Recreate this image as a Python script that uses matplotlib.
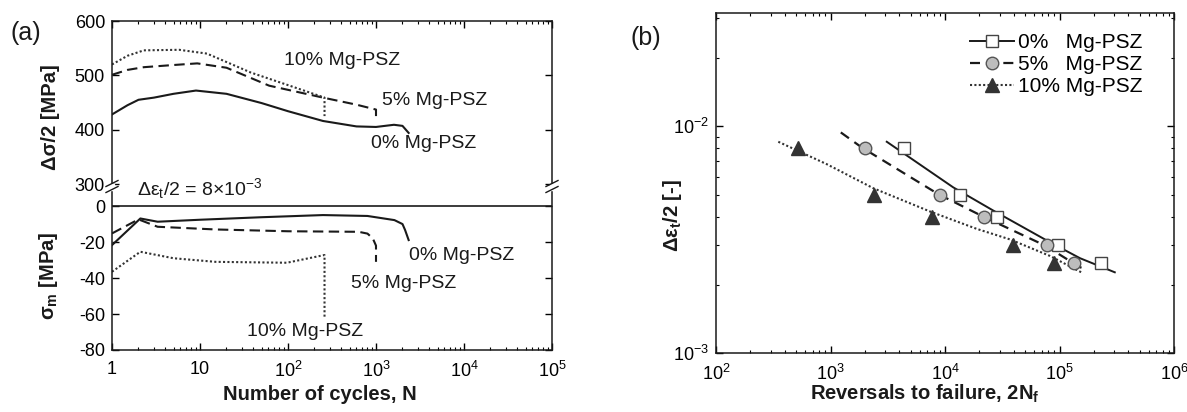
import matplotlib
matplotlib.use("Agg")
import matplotlib.pyplot as plt
from matplotlib.lines import Line2D
from matplotlib.patches import Rectangle
from matplotlib.ticker import FixedLocator, FixedFormatter, LogLocator, NullFormatter

plt.rcParams['font.family'] = ['Liberation Sans', 'DejaVu Sans']
plt.rcParams['mathtext.fontset'] = 'custom'
plt.rcParams['mathtext.rm'] = 'Liberation Sans'
plt.rcParams['mathtext.it'] = 'Liberation Sans:italic'
plt.rcParams['mathtext.bf'] = 'Liberation Sans:bold'
plt.rcParams['axes.unicode_minus'] = False

# ---------------- data: panel (a) stress amplitude ----------------
N_amp_0 = [1, 1.5, 2, 3, 5, 9, 20, 50, 100, 250, 600, 1000, 1600, 2000, 2350]
amp_0 = [428, 445, 455, 459, 466, 472, 466, 449, 434, 416, 406, 405, 409, 407, 394]
N_amp_5 = [1, 1.5, 2.3, 5, 9.3, 20, 61, 250, 600, 1000, 1000]
amp_5 = [501, 510, 515, 519, 522, 514, 481, 459, 446, 437, 425]
N_amp_10 = [1, 1.5, 2.3, 5.8, 12, 38, 100, 260, 260]
amp_10 = [520, 536, 546, 547, 540, 505, 482, 459, 425]

# ---------------- data: panel (a) mean stress ----------------
N_m_0 = [1, 2.1, 3.3, 10, 50, 250, 800, 1620, 2000, 2140, 2350]
m_0 = [-21.7, -6.9, -8.7, -7.6, -6.2, -5.0, -5.5, -7.8, -10.0, -13.3, -18.9]
N_m_5 = [1, 2.0, 3.3, 15, 100, 635, 800, 920, 1000, 1000]
m_5 = [-15.2, -7.4, -11.5, -13.0, -14.0, -14.3, -15.3, -18.0, -22.0, -31.0]
N_m_10 = [1, 2.1, 5, 15, 97, 260, 260]
m_10 = [-36.5, -25.4, -29.0, -31.0, -31.5, -27.2, -61.5]

# ---------------- data: panel (b) strain-life ----------------
rev_0 = [4400, 13600, 28400, 96900, 230000]
eps_0 = [0.008, 0.005, 0.004, 0.003, 0.0025]
rev_5 = [1990, 9040, 22100, 78500, 133000]
eps_5 = [0.008, 0.005, 0.004, 0.003, 0.0025]
rev_10 = [516, 2400, 7770, 39300, 89000]
eps_10 = [0.008, 0.005, 0.004, 0.003, 0.0025]

fit0_x = [3100, 11800, 26400, 82600, 151000, 304000]
fit0_y = [0.00855, 0.00538, 0.00425, 0.00308, 0.00262, 0.00227]
fit5_x = [1230, 1875, 8750, 21300, 74700, 151000, 172000]
fit5_y = [0.0094, 0.00807, 0.00502, 0.00401, 0.00298, 0.00239, 0.00234]
fit10_x = [350, 927, 2370, 7400, 18900, 37000, 82600, 155000]
fit10_y = [0.00855, 0.00681, 0.00533, 0.00421, 0.00353, 0.00317, 0.00268, 0.00227]

legend_labels = ['0%   Mg-PSZ', '5%   Mg-PSZ', '10% Mg-PSZ']
a_xtick_vals = [1, 10, 100, 1000, 10000, 100000]
a_xtick_labels = ['1', '10', r'$\mathdefault{10^{2}}$', r'$\mathdefault{10^{3}}$',
                  r'$\mathdefault{10^{4}}$', r'$\mathdefault{10^{5}}$']

W, H = 1187, 412
fig = plt.figure(figsize=(W / 100, H / 100), dpi=100)

def fbox(x0, y0, x1, y1):
    return [x0 / W, 1 - y1 / H, (x1 - x0) / W, (y1 - y0) / H]

brk = 187
axT = fig.add_axes(fbox(112, 21, 552, brk))
axB = fig.add_axes(fbox(112, brk, 552, 350))
axR = fig.add_axes(fbox(716, 13, 1174, 353))

TICK_FS = 13
ANN_FS = 14
LAB_FS = 14.5
K = '#1a1a1a'

for ax in (axT, axB):
    ax.set_xscale('log')
    ax.set_xlim(1, 1e5)
    ax.xaxis.set_major_locator(FixedLocator(a_xtick_vals))
    ax.xaxis.set_minor_locator(LogLocator(base=10, subs=range(2, 10), numticks=20))
    ax.xaxis.set_minor_formatter(NullFormatter())
    ax.tick_params(which='both', direction='in', labelsize=TICK_FS, right=True)
    ax.tick_params(which='major', length=5, width=1)
    ax.tick_params(which='minor', length=2.5, width=0.8)
    for s in ax.spines.values():
        s.set_linewidth(1.1)
        s.set_color(K)

axT.set_ylim(294.5, 600)
axT.set_yticks([300, 400, 500, 600])
axT.spines['bottom'].set_visible(False)
axT.tick_params(which='both', bottom=False, top=True, labelbottom=False)
axT.tick_params(axis='y', pad=5)

axB.set_ylim(-80, 10.6)
axB.set_yticks([0, -20, -40, -60, -80])
axB.spines['top'].set_visible(False)
axB.tick_params(which='both', top=False, bottom=True)
axB.xaxis.set_major_formatter(FixedFormatter(a_xtick_labels))
axB.tick_params(axis='x', pad=8)
axB.tick_params(axis='y', pad=5)
axB.axhline(0, color=K, lw=1.2)

lw_a = 1.5
axT.plot(N_amp_0, amp_0, color=K, lw=lw_a, ls='-')
axT.plot(N_amp_5, amp_5, color=K, lw=lw_a, ls=(0, (5, 2.6)))
axT.plot(N_amp_10, amp_10, color='#333333', lw=lw_a, ls=(0, (1, 1.1)))
axB.plot(N_m_0, m_0, color=K, lw=lw_a, ls='-')
axB.plot(N_m_5, m_5, color=K, lw=lw_a, ls=(0, (5, 2.6)))
axB.plot(N_m_10, m_10, color='#333333', lw=lw_a, ls=(0, (1, 1.1)))

axT.text(89, 527, '10% Mg-PSZ', fontsize=ANN_FS, ha='left', va='center', color=K)
axT.text(1170, 453, '5% Mg-PSZ', fontsize=ANN_FS, ha='left', va='center', color=K)
axT.text(880, 375, '0% Mg-PSZ', fontsize=ANN_FS, ha='left', va='center', color=K)
axB.text(2350, -27.2, '0% Mg-PSZ', fontsize=ANN_FS, ha='left', va='center', color=K)
axB.text(525, -43, '5% Mg-PSZ', fontsize=ANN_FS, ha='left', va='center', color=K)
axB.text(34.6, -69.5, '10% Mg-PSZ', fontsize=ANN_FS, ha='left', va='center', color=K)

fig.text(137 / W, 1 - 195 / H,
         r'Δε$_\mathregular{t}$/2 = 8×10$^{\mathregular{-3}}$',
         fontsize=ANN_FS, ha='left', va='baseline', color=K)

# axis break marks
for xb in (112, 552):
    fig.add_artist(Rectangle(((xb - 2) / W, 1 - 190 / H), 4 / W, 6 / H,
                             transform=fig.transFigure, color='white', zorder=5))
    for yb in (183.5, 189.5):
        fig.add_artist(Line2D([(xb - 6) / W, (xb + 6) / W],
                              [1 - (yb + 3) / H, 1 - (yb - 3) / H],
                              transform=fig.transFigure, color=K, lw=1.0, zorder=6))

fig.text(320 / W, 1 - 394 / H, 'Number of cycles, N', fontsize=LAB_FS,
         fontweight='bold', ha='center', va='center', color=K)
fig.text(50 / W, 1 - 117 / H, 'Δσ/2 [MPa]', fontsize=LAB_FS, fontweight='bold',
         rotation=90, ha='center', va='center', color=K)
fig.text(48 / W, 1 - 276 / H, r'σ$_\mathbf{m}$ [MPa]', fontsize=LAB_FS,
         fontweight='bold', rotation=90, ha='center', va='center', color=K)
fig.text(26 / W, 1 - 33 / H, '(a)', fontsize=18, ha='center', va='center', color=K)

# ---------------- panel (b) ----------------
axR.set_xscale('log')
axR.set_yscale('log')
axR.set_xlim(1e2, 1e6)
axR.set_ylim(1e-3, 10 ** -1.5)
axR.xaxis.set_minor_locator(LogLocator(base=10, subs=range(2, 10), numticks=20))
axR.yaxis.set_minor_locator(LogLocator(base=10, subs=range(2, 10), numticks=20))
axR.xaxis.set_minor_formatter(NullFormatter())
axR.yaxis.set_minor_formatter(NullFormatter())
axR.tick_params(which='both', direction='in', labelsize=TICK_FS, top=True, right=True)
axR.tick_params(which='major', length=5, width=1)
axR.tick_params(which='minor', length=2.5, width=0.8)
axR.tick_params(axis='x', pad=8)
axR.tick_params(axis='y', pad=5)
for s in axR.spines.values():
    s.set_linewidth(1.1)
    s.set_color(K)

axR.plot(fit0_x, fit0_y, color=K, lw=1.4, ls='-', zorder=2)
axR.plot(fit5_x, fit5_y, color=K, lw=1.6, ls=(0, (4.5, 3)), zorder=2)
axR.plot(fit10_x, fit10_y, color='#333333', lw=1.5, ls=(0, (1, 1.1)), zorder=2)

ms = 8.5
axR.plot(rev_0, eps_0, ls='none', marker='s', ms=ms, mfc='white', mec='#444444', mew=1.0, zorder=3)
axR.plot(rev_5, eps_5, ls='none', marker='o', ms=ms + 0.5, mfc='#bdbdbd', mec='#555555', mew=1.0, zorder=3)
axR.plot(rev_10, eps_10, ls='none', marker='^', ms=ms + 1, mfc='#333333', mec='#333333', mew=1.0, zorder=3)

handles = [
    Line2D([], [], color=K, lw=1.4, ls='-', marker='s', ms=ms, mfc='white', mec='#444444'),
    Line2D([], [], color=K, lw=1.6, ls=(0, (4.5, 3)), marker='o', ms=ms + 0.5, mfc='#bdbdbd', mec='#555555'),
    Line2D([], [], color='#333333', lw=1.5, ls=(0, (1, 1.1)), marker='^', ms=ms + 1, mfc='#333333', mec='#333333'),
]
axR.legend(handles, legend_labels, loc='upper left', bbox_to_anchor=(970 / W, 1 - 33 / H),
           bbox_transform=fig.transFigure, frameon=False, fontsize=15,
           handlelength=2.1, handletextpad=0.2, labelspacing=0.15,
           borderpad=0, borderaxespad=0)

fig.text(672 / W, 1 - 216 / H, r'Δε$_\mathbf{t}$/2 [-]', fontsize=LAB_FS,
         fontweight='bold', rotation=90, ha='center', va='center', color=K)
fig.text(925 / W, 1 - 394 / H, r'Reversals to failure, 2N$_\mathbf{f}$', fontsize=LAB_FS,
         fontweight='bold', ha='center', va='center', color=K)
fig.text(646 / W, 1 - 38 / H, '(b)', fontsize=18, ha='center', va='center', color=K)

fig.savefig('out.png', dpi=100)
